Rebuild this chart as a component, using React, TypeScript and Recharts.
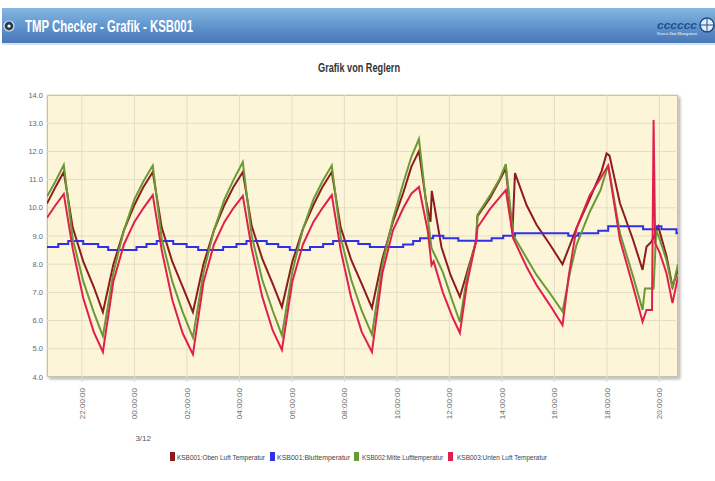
import React from "react";
import { LineChart, Line, XAxis, YAxis, CartesianGrid, Legend } from "recharts";

// time in hours relative to midnight of 3/12 (22:00 the day before = -2)
const hourTicks = [-2, 0, 2, 4, 6, 8, 10, 12, 14, 16, 18, 20];
const tempTicks = [4, 5, 6, 7, 8, 9, 10, 11, 12, 13, 14];

const obenLuft: [number, number][] = [
  [-3.33, 10.15], [-3.0, 10.75], [-2.69, 11.27], [-2.35, 9.3], [-1.95, 8.1], [-1.55, 7.2], [-1.2, 6.3],
  [-0.8, 8.0], [-0.4, 9.2], [0.0, 10.1], [0.35, 10.75], [0.7, 11.27], [1.04, 9.3], [1.44, 8.1],
  [1.84, 7.2], [2.23, 6.3], [2.63, 8.0], [3.03, 9.2], [3.43, 10.1], [3.78, 10.75], [4.13, 11.27],
  [4.47, 9.35], [4.87, 8.2], [5.27, 7.3], [5.62, 6.48], [6.02, 8.1], [6.42, 9.25], [6.82, 10.1],
  [7.17, 10.75], [7.52, 11.27], [7.86, 9.3], [8.26, 8.15], [8.66, 7.3], [9.05, 6.45], [9.45, 8.2],
  [9.85, 9.5], [10.25, 10.55], [10.55, 11.45], [10.84, 12.01], [11.1, 10.3], [11.28, 9.5], [11.33, 10.6],
  [11.7, 8.6], [12.05, 7.6], [12.4, 6.84], [12.7, 7.8], [13.02, 8.8], [13.07, 9.7], [13.55, 10.35],
  [13.9, 10.95], [14.15, 11.4], [14.4, 9.1], [14.5, 11.23], [14.94, 10.1], [15.32, 9.4], [15.83, 8.7],
  [16.31, 8.0], [16.84, 9.27], [17.35, 10.33], [17.8, 11.3], [17.99, 11.93], [18.1, 11.85],
  [18.5, 10.16], [19.0, 8.86], [19.36, 7.8], [19.51, 8.62], [19.7, 8.8], [19.96, 9.33], [20.27, 8.3],
  [20.5, 7.2], [20.71, 7.8],
];

const blutTemp: [number, number][] = [
  [-3.33, 8.61], [-2.9, 8.72], [-2.52, 8.82], [-1.95, 8.72], [-1.38, 8.61], [-1.0, 8.5], [0.08, 8.61],
  [0.46, 8.72], [0.85, 8.82], [1.48, 8.72], [1.99, 8.61], [2.43, 8.5], [3.38, 8.61], [3.89, 8.72],
  [4.27, 8.82], [5.04, 8.72], [5.48, 8.61], [5.92, 8.5], [6.69, 8.61], [7.19, 8.72], [7.57, 8.82],
  [8.53, 8.72], [8.97, 8.61], [10.24, 8.7], [10.62, 8.82], [10.88, 8.92], [11.38, 9.01], [11.77, 8.92],
  [12.34, 8.83], [13.61, 8.92], [14.05, 9.01], [14.5, 9.1], [16.53, 9.01], [16.91, 9.1], [17.67, 9.19],
  [18.05, 9.35], [19.38, 9.24], [19.89, 9.35], [20.08, 9.24], [20.65, 9.1], [20.71, 9.1],
];

const mitteLuft: [number, number][] = [
  [-3.33, 10.4], [-3.0, 10.95], [-2.69, 11.52], [-2.35, 8.9], [-1.95, 7.4], [-1.55, 6.3], [-1.2, 5.45],
  [-0.8, 7.7], [-0.4, 9.2], [0.0, 10.3], [0.35, 10.95], [0.7, 11.5], [1.04, 8.9], [1.44, 7.4],
  [1.84, 6.3], [2.23, 5.4], [2.63, 7.7], [3.03, 9.2], [3.43, 10.3], [3.78, 11.0], [4.13, 11.62],
  [4.47, 9.0], [4.87, 7.45], [5.27, 6.35], [5.62, 5.48], [6.02, 7.75], [6.42, 9.25], [6.82, 10.3],
  [7.17, 10.95], [7.52, 11.5], [7.86, 8.95], [8.26, 7.45], [8.66, 6.35], [9.05, 5.5], [9.45, 8.0],
  [9.85, 9.6], [10.25, 10.9], [10.55, 11.8], [10.84, 12.44], [11.18, 9.63], [11.32, 8.57], [11.75, 7.72],
  [12.13, 6.66], [12.4, 5.95], [12.67, 7.55], [13.02, 8.85], [13.07, 9.75], [13.55, 10.44], [13.9, 11.0],
  [14.15, 11.55], [14.43, 9.03], [14.94, 8.22], [15.32, 7.62], [15.83, 6.97], [16.31, 6.32], [16.6, 7.73],
  [16.84, 8.68], [17.35, 9.86], [17.76, 10.63], [18.05, 11.52], [18.5, 9.1], [19.0, 7.56], [19.36, 6.38],
  [19.45, 7.14], [19.78, 7.14], [19.88, 9.2], [20.02, 8.86], [20.27, 8.15], [20.5, 7.14], [20.71, 8.0],
];

const untenLuft: [number, number][] = [
  [-3.33, 9.65], [-3.0, 10.1], [-2.69, 10.49], [-2.35, 8.55], [-1.95, 6.8], [-1.55, 5.6], [-1.2, 4.89],
  [-0.8, 7.4], [-0.4, 8.7], [0.0, 9.5], [0.35, 10.0], [0.7, 10.45], [1.04, 8.5], [1.44, 6.75],
  [1.84, 5.55], [2.23, 4.8], [2.63, 7.35], [3.03, 8.7], [3.43, 9.5], [3.78, 10.0], [4.13, 10.42],
  [4.47, 8.55], [4.87, 6.85], [5.27, 5.65], [5.62, 4.96], [6.02, 7.4], [6.42, 8.7], [6.82, 9.5],
  [7.17, 10.0], [7.52, 10.45], [7.86, 8.5], [8.26, 6.8], [8.66, 5.6], [9.05, 4.89], [9.45, 7.7],
  [9.85, 9.2], [10.25, 10.0], [10.55, 10.5], [10.84, 10.74], [11.18, 9.16], [11.32, 7.97], [11.4, 8.1],
  [11.75, 7.0], [12.13, 6.1], [12.4, 5.56], [12.67, 7.3], [13.02, 8.85], [13.07, 9.3], [13.55, 9.96],
  [13.9, 10.35], [14.15, 10.63], [14.43, 8.92], [14.94, 7.91], [15.32, 7.26], [15.83, 6.55], [16.31, 5.84],
  [16.55, 7.6], [16.84, 9.27], [17.35, 10.45], [17.76, 11.05], [18.05, 11.5], [18.5, 8.86], [19.0, 7.2],
  [19.36, 5.96], [19.51, 6.38], [19.72, 6.38], [19.78, 13.11], [19.84, 8.75], [20.02, 8.39], [20.27, 7.68],
  [20.5, 6.62], [20.71, 7.56],
];

const toRows = (pairs: [number, number][]) => pairs.map(([t, v]) => ({ t, v }));

const series = [
  { name: "KSB001:Oben Luft Temperatur", color: "#8E1C1C", rows: toRows(obenLuft), step: false },
  { name: "KSB001:Bluttemperatur", color: "#3030E8", rows: toRows(blutTemp), step: true },
  { name: "KSB002:Mitte Lufttemperatur", color: "#6A9A35", rows: toRows(mitteLuft), step: false },
  { name: "KSB003:Unten Luft Temperatur", color: "#E0204C", rows: toRows(untenLuft), step: false },
];

// legend layout: square x, text x, text width
const legendSlots = [
  [170, 177, 88],
  [270, 277, 73],
  [354, 362, 81],
  [448, 457, 90],
];

const fmtHour = (v: number) => {
  const h = ((v % 24) + 24) % 24;
  return `${String(h).padStart(2, "0")}:00:00`;
};

function TimeTick(props: any) {
  const { x, y, payload } = props;
  return (
    <g>
      <text
        x={x}
        y={y}
        transform={`rotate(-90 ${x} ${y})`}
        textAnchor="end"
        dy="0.35em"
        fontSize={8}
        fontFamily="Arial, Liberation Sans, sans-serif"
        fill="#6A6A6A"
      >
        {fmtHour(payload.value)}
      </text>
      {payload.value === 0 && (
        <text x={x + 1} y={y + 53} fontSize={8} fontFamily="Arial, Liberation Sans, sans-serif" fill="#555">
          3/12
        </text>
      )}
    </g>
  );
}

function ChartLegend() {
  return (
    <svg width={715} height={20}>
      {series.map((s, i) => {
        const [sx, tx, tw] = legendSlots[i];
        return (
          <g key={s.name}>
            <rect x={sx} y={5} width={5} height={9} fill={s.color} />
            <text
              x={tx}
              y={13}
              fontSize={7.5}
              fontFamily="Arial, Liberation Sans, sans-serif"
              fill="#444"
              textLength={tw}
              lengthAdjust="spacingAndGlyphs"
            >
              {s.name}
            </text>
          </g>
        );
      })}
    </svg>
  );
}

export default function App() {
  return (
    <div style={{ position: "absolute", left: 0, top: 0, width: 715, height: 481, background: "#fff", overflow: "hidden" }}>
      {/* header bar */}
      <div
        style={{
          position: "absolute",
          left: 2,
          top: 8,
          width: 713,
          height: 35,
          background: "linear-gradient(#86B7E2, #5E93CC 55%, #4877B6)",
          borderBottom: "2px solid #D6E4F2",
        }}
      />
      <svg style={{ position: "absolute", left: 0, top: 0 }} width={715} height={50}>
        <circle cx={9} cy={26} r={5} fill="#2B3B52" stroke="#D8E2EE" strokeWidth={1.2} />
        <circle cx={9} cy={26} r={1.6} fill="#fff" />
        <text
          x={25}
          y={32}
          fontSize={17}
          fontWeight="bold"
          fontFamily="Arial, Liberation Sans, sans-serif"
          fill="#fff"
          textLength={168}
          lengthAdjust="spacingAndGlyphs"
        >
          TMP Checker - Grafik - KSB001
        </text>
        <text
          x={657}
          y={29}
          fontSize={11}
          fontWeight="bold"
          fontStyle="italic"
          fontFamily="Arial, Liberation Sans, sans-serif"
          fill="#1E4F8E"
          textLength={40}
          lengthAdjust="spacingAndGlyphs"
        >
          cccccc
        </text>
        <text x={657} y={35} fontSize={3} fill="#fff" textLength={40} lengthAdjust="spacingAndGlyphs">
          Process Data Management
        </text>
        <circle cx={707} cy={25} r={7} fill="#E4EDF6" stroke="#1E4F8E" strokeWidth={1.5} />
        <line x1={707} y1={18} x2={707} y2={32} stroke="#1E4F8E" strokeWidth={1} />
        <line x1={700} y1={25} x2={714} y2={25} stroke="#1E4F8E" strokeWidth={1} />
      </svg>

      {/* chart title */}
      <svg style={{ position: "absolute", left: 0, top: 55 }} width={715} height={20}>
        <text
          x={318}
          y={17}
          fontSize={12}
          fontWeight="bold"
          fontFamily="Arial, Liberation Sans, sans-serif"
          fill="#333"
          textLength={82}
          lengthAdjust="spacingAndGlyphs"
        >
          Grafik von Reglern
        </text>
      </svg>

      {/* plot background with border and shadow */}
      <div
        style={{
          position: "absolute",
          left: 47,
          top: 95,
          width: 631,
          height: 282,
          background: "#FDF5D7",
          border: "1px solid #A4A4A4",
          boxSizing: "border-box",
          boxShadow: "2px 2px 3px rgba(0,0,0,0.35)",
        }}
      />

      <div style={{ position: "absolute", left: 0, top: 50 }}>
        <LineChart width={715} height={425} margin={{ top: 45, right: 37, bottom: 8, left: 0 }}>
          <CartesianGrid stroke="#E4DDC4" strokeWidth={1} />
          <XAxis
            type="number"
            dataKey="t"
            domain={[-3.33, 20.71]}
            ticks={hourTicks}
            allowDataOverflow
            height={70}
            tick={<TimeTick />}
            tickSize={5}
            tickMargin={6}
            axisLine={false}
            tickLine={{ stroke: "#D8D8D8" }}
            interval={0}
          />
          <YAxis
            type="number"
            domain={[4, 14]}
            ticks={tempTicks}
            width={47}
            tickFormatter={(v: number) => v.toFixed(1)}
            tick={{ fontSize: 7.5, fill: "#666", fontFamily: "Arial, Liberation Sans, sans-serif" }}
            tickSize={2}
            tickMargin={2}
            axisLine={false}
            tickLine={false}
            interval={0}
          />
          <Legend verticalAlign="bottom" height={20} content={<ChartLegend />} wrapperStyle={{ left: 0, width: 715 }} />
          {series.map((s) => (
            <Line
              key={s.name}
              data={s.rows}
              dataKey="v"
              name={s.name}
              type={s.step ? "stepAfter" : "linear"}
              stroke={s.color}
              strokeWidth={2}
              dot={false}
              activeDot={false}
              isAnimationActive={false}
            />
          ))}
        </LineChart>
      </div>
    </div>
  );
}
